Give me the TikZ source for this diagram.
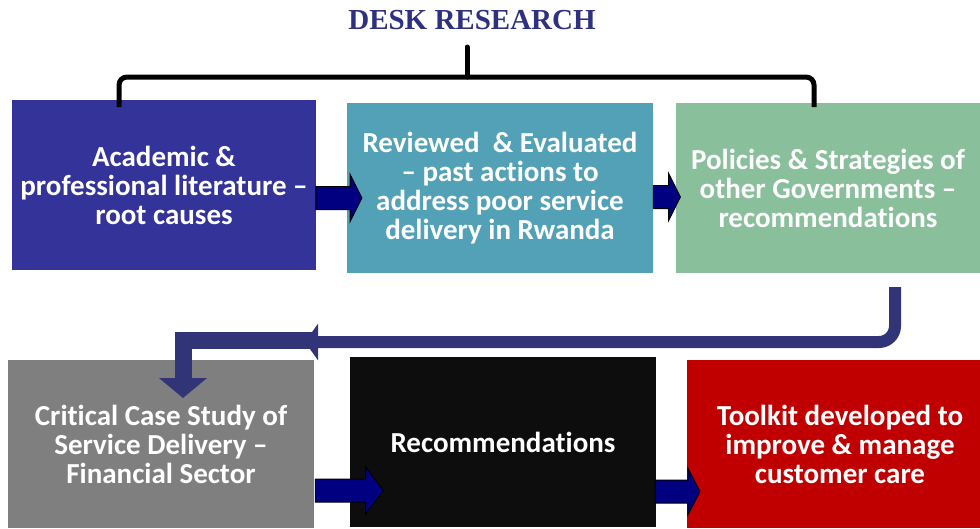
\documentclass[tikz,border=0pt]{standalone}
\usepackage{xcolor}
\usepackage{fontspec}
\setmainfont{Carlito}[Ligatures={TeX,NoCommon}]
\newfontfamily\titlefont{Liberation Serif}
\usepackage{tikz}
\usetikzlibrary{arrows.meta}
\usetikzlibrary{shapes.arrows}

\definecolor{deskblue}{RGB}{51,51,153}
\definecolor{deskteal}{RGB}{82,161,183}
\definecolor{deskgreen}{RGB}{137,191,155}
\definecolor{deskgray}{RGB}{127,127,127}
\definecolor{deskblack}{RGB}{13,13,13}
\definecolor{deskred}{RGB}{192,0,0}
\definecolor{desknavy}{RGB}{0,0,128}
\definecolor{deskband}{RGB}{50,52,120}
\definecolor{desktitle}{RGB}{46,49,128}

\begin{document}
\begin{tikzpicture}[x=1pt, y=-1pt,
		box/.style={inner sep=0pt, minimum width=306pt, minimum height=170pt,
			align=center, text=white, font=\fontsize{29}{29}\selectfont\bfseries},
		smallarrow/.style={single arrow, draw=black, fill=desknavy, line width=1pt,
			inner xsep=0pt, inner ysep=11pt, single arrow head extend=12pt, single arrow head indent=0pt},
		bandarrow/.style={draw=deskband, line width=#1, line join=miter}
	]
	\useasboundingbox (0,0) rectangle (980,528);

	\node[font=\titlefont\fontsize{29}{34}\selectfont\bfseries, text=desktitle] (title) at (472,20) {DESK RESEARCH};

	\node[box, fill=deskblue, minimum width=304pt] (academic) at (164,185) {Academic \&\\professional literature --\\root causes};
	\node[box, fill=deskteal] (reviewed) at (500,188) {Reviewed\ \ \& Evaluated\\-- past actions to\\address poor service\\delivery in Rwanda};
	\node[box, fill=deskgreen, minimum width=304pt] (policies) at (828,188) {Policies \& Strategies of\\other Governments --\\recommendations};
	\node[box, fill=deskgray, minimum height=168pt] (casestudy) at (161,444) {Critical Case Study of\\Service Delivery --\\Financial Sector};
	\node[box, fill=deskblack] (recommend) at (503,442) {Recommendations};
	\node[box, fill=deskred, minimum height=168pt] (toolkit) at (840,444) {Toolkit developed to\\improve \& manage\\customer care};

	\coordinate (braceleft) at (119,107);
	\coordinate (braceright) at (814,107);
	\coordinate (stemtop) at (467,47);
	\draw[line width=5pt, rounded corners=8pt] (braceleft) -- (119,77) -- (814,77) -- (braceright);
	\draw[line width=5pt, line cap=round] (467,77) -- (stemtop);

	\coordinate (dropstart) at (318,340.5);
	\coordinate (dropend) at (183,398);
	\coordinate (bendstart) at (895,287);
	\coordinate (bendend) at (305,342);
	\draw[bandarrow=17pt, -{Triangle[width=47pt,length=20pt]}] (dropstart) -- (dropstart -| dropend) -- (dropend);
	\draw[bandarrow=12pt, rounded corners=16pt, -{Triangle[width=36pt,length=13pt]}] (bendstart) -- (bendstart |- bendend) -- (bendend);

	\node[smallarrow, minimum height=46pt, single arrow tip angle=127] (arrowa) at (336,198) {};
	\node[smallarrow, minimum height=27pt, single arrow tip angle=127] (arrowb) at (664,197) {};
	\node[smallarrow, minimum height=68pt, single arrow tip angle=106] (arrowc) at (345,490.5) {};
	\node[smallarrow, minimum height=45pt, single arrow tip angle=125] (arrowd) at (674.5,491.5) {};
\end{tikzpicture}
\end{document}
